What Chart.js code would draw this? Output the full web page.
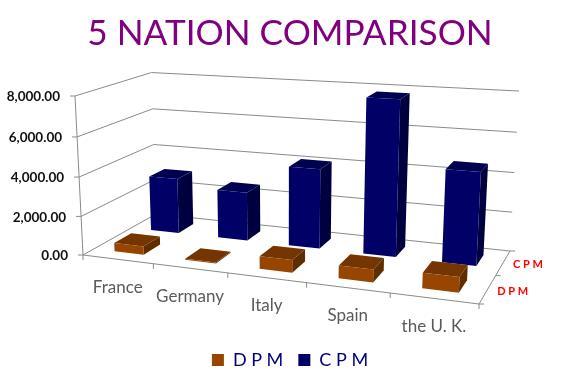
<!DOCTYPE html>
<html>
<head>
<meta charset="utf-8">
<title>5 Nation Comparison</title>
<script src="https://cdn.jsdelivr.net/npm/chart.js@4"></script>
<style>
    html, body { margin: 0; background: #fff; }
    canvas { display: block; }
</style>
</head>
<body>
<canvas id="nationChart" width="580" height="389"></canvas>
<script>
"use strict"

const countries = ["France", "Germany", "Italy", "Spain", "the U. K."];
const dpmValues = [430, 50, 620, 620, 740];
const cpmValues = [2950, 2550, 4100, 7800, 4600];
const yTicks = [0, 2000, 4000, 6000, 8000];

//Corners of the 3D box on the canvas, used only for the projection
const floorFrontLeft = [83, 255];
const floorFrontRight = [479, 304];
const floorBackRight = [510, 251];
const floorBackLeft = [156, 214];
const topFrontLeft = [75, 96];
const topBackRight = [519, 94];

const barDepth = 0.45;
const barShift = 0.002;

const gridColor = "#8a8a8a";
const faces = [
    { front: "#974500", side: "#5f2e00", top: "#743500" },
    { front: "#000066", side: "#000040", top: "#000050" }
];

//Builds a projection from (u, v, t), each 0-1, to canvas pixels
function makeProjection() {
    const [x0, y0] = floorFrontLeft;
    const [x1, y1] = floorFrontRight;
    const [x2, y2] = floorBackRight;
    const [x3, y3] = floorBackLeft;

    const sx = x0 - x1 + x2 - x3;
    const sy = y0 - y1 + y2 - y3;
    const dx1 = x1 - x2, dx2 = x3 - x2, dy1 = y1 - y2, dy2 = y3 - y2;
    const det = dx1 * dy2 - dx2 * dy1;
    const p = (sx * dy2 - dx2 * sy) / det;
    const q = (dx1 * sy - sx * dy1) / det;

    const a = x1 - x0 + p * x1, b = x3 - x0 + q * x3;
    const d = y1 - y0 + p * y1, e = y3 - y0 + q * y3;

    //Homogeneous weights at the two corners where the wall height is known
    const w0 = 1;
    const w1 = p + q + 1;
    const [X0, Y0] = topFrontLeft;
    const [X1] = topBackRight;
    const i = (w0 * (X0 - x0) - w1 * (X1 - x2)) / (X1 - X0);
    const g = w0 * (X0 - x0) + X0 * i;
    const h = w0 * (Y0 - y0) + Y0 * i;

    return (u, v, t) => {
        const w = p * u + q * v + 1 + i * t;
        return [
            (a * u + b * v + x0 + g * t) / w,
            (d * u + e * v + y0 + h * t) / w
        ];
    };
}

const project = makeProjection();

function polygon(ctx, points, color) {
    ctx.beginPath();
    points.forEach((pt, n) => n === 0 ? ctx.moveTo(pt[0], pt[1]) : ctx.lineTo(pt[0], pt[1]));
    ctx.closePath();
    ctx.fillStyle = color;
    ctx.fill();
}

function line(ctx, a, b) {
    ctx.beginPath();
    ctx.moveTo(a[0], a[1]);
    ctx.lineTo(b[0], b[1]);
    ctx.stroke();
}

function drawFrame(chart) {
    const ctx = chart.ctx;
    const area = chart.chartArea;
    const yScale = chart.scales.y;
    const count = countries.length;

    ctx.save();
    ctx.strokeStyle = gridColor;
    ctx.lineWidth = 1;

    //Walls, one line per tick of the y scale
    yScale.ticks.forEach(tick => {
        const t = (area.bottom - yScale.getPixelForValue(tick.value)) / area.height;
        line(ctx, project(0, 0, t), project(0, 1, t));
        line(ctx, project(0, 1, t), project(1, 1, t));

        const start = project(0, 0, t);
        line(ctx, start, [start[0] - 5, start[1]]);

        ctx.font = "bold 13.5px Lato";
        ctx.fillStyle = "#111";
        ctx.textAlign = "right";
        ctx.textBaseline = "middle";
        ctx.fillText(tick.label, start[0] - 15, start[1] + 1);
    });

    line(ctx, project(0, 0, 0), project(0, 0, 1));

    //Floor
    line(ctx, project(0, 0, 0), project(1, 0, 0));
    line(ctx, project(1, 0, 0), project(1, 1, 0));

    for(let i = 0; i <= count; i++) {
        const pt = project(i / count, 0, 0);
        line(ctx, pt, [pt[0], pt[1] + 5]);
    }
    for(let i = 0; i <= 2; i++) {
        const pt = project(1, i / 2, 0);
        line(ctx, pt, [pt[0] + 5, pt[1]]);
    }

    //Category names follow the front edge
    ctx.font = "17px Lato";
    ctx.fillStyle = "#5a5a5a";
    ctx.textAlign = "center";
    chart.scales.x.getLabels().forEach((name, i) => {
        const pt = project((i + 0.5) / count, 0, 0);
        ctx.fillText(name, pt[0], pt[1] + 28);
    });

    //Series names follow the right edge
    ctx.font = "bold 11px Lato";
    ctx.fillStyle = "#ff0000";
    ctx.textAlign = "center";
    chart.data.datasets.forEach((ds, i) => {
        const pt = project(1, (i + 0.5) / 2, 0);
        ctx.fillText(ds.label, pt[0] + 25, pt[1] + 2);
    });

    ctx.restore();
}

function drawBars(chart) {
    const ctx = chart.ctx;
    const area = chart.chartArea;
    const total = chart.data.datasets.length;

    //Back series first so the front one covers it
    for(let s = total - 1; s >= 0; s--) {
        const v0 = (s + 0.5 - barDepth / 2) / total;
        const v1 = (s + 0.5 + barDepth / 2) / total;

        chart.getDatasetMeta(s).data.forEach(bar => {
            const u0 = (bar.x - bar.width / 2 - area.left) / area.width + barShift;
            const u1 = (bar.x + bar.width / 2 - area.left) / area.width + barShift;
            const t = (bar.base - bar.y) / area.height;

            polygon(ctx, [project(u1, v0, 0), project(u1, v1, 0), project(u1, v1, t), project(u1, v0, t)], faces[s].side);
            polygon(ctx, [project(u0, v0, t), project(u1, v0, t), project(u1, v1, t), project(u0, v1, t)], faces[s].top);
            polygon(ctx, [project(u0, v0, 0), project(u1, v0, 0), project(u1, v0, t), project(u0, v0, t)], faces[s].front);
        });
    }
}

const box3d = {
    id: "box3d",
    beforeDatasetsDraw(chart) {
        drawFrame(chart);
        drawBars(chart);
    },
    //The flat bars are replaced by the prisms above
    beforeDatasetDraw() {
        return false;
    }
};

new Chart(document.getElementById("nationChart"), {
    type: "bar",
    data: {
        labels: countries,
        datasets: [
            { label: "D P M", data: dpmValues, backgroundColor: faces[0].front },
            { label: "C P M", data: cpmValues, backgroundColor: faces[1].front }
        ]
    },
    plugins: [box3d],
    options: {
        responsive: false,
        animation: false,
        grouped: false,
        barPercentage: 0.42,
        categoryPercentage: 1,
        layout: { padding: { top: 13, bottom: 10 } },
        scales: {
            x: { display: false },
            y: {
                display: false,
                min: 0,
                max: 8000,
                afterBuildTicks(scale) {
                    scale.ticks = yTicks.map(value => ({ value }));
                },
                ticks: {
                    callback: value => value.toLocaleString("en-US", { minimumFractionDigits: 2 })
                }
            }
        },
        plugins: {
            tooltip: { enabled: false },
            title: {
                display: true,
                text: "5 NATION COMPARISON",
                color: "#800080",
                font: { family: "Lato", size: 35.2, weight: "normal" },
                padding: { top: 0, bottom: 4 }
            },
            legend: {
                position: "bottom",
                labels: {
                    color: "#000080",
                    boxWidth: 12,
                    boxHeight: 12,
                    padding: 15,
                    font: { family: "Lato", size: 18 }
                }
            }
        }
    }
});
</script>
</body>
</html>
